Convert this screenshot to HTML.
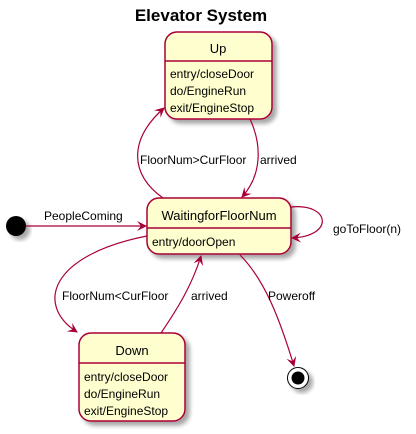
<!DOCTYPE html>
<html><head><style>
html,body{margin:0;padding:0;background:#fff;}
svg{display:block;}
text{font-family:"Liberation Sans",sans-serif;fill:#000;}
</style></head><body>
<svg width="416" height="434" viewBox="0 0 416 434" xmlns="http://www.w3.org/2000/svg">
<defs>
<filter id="sh" x="-20%" y="-20%" width="150%" height="150%">
<feGaussianBlur in="SourceAlpha" stdDeviation="2"/>
<feOffset dx="4" dy="4" result="b"/>
<feComponentTransfer><feFuncA type="linear" slope="0.35"/></feComponentTransfer>
<feMerge><feMergeNode/><feMergeNode in="SourceGraphic"/></feMerge>
</filter>
<marker id="ar" viewBox="0 0 10 10" refX="9" refY="5" markerWidth="10" markerHeight="10" markerUnits="userSpaceOnUse" orient="auto">
<path d="M0,0 L10,5 L0,10 L4,5 Z" fill="#A80036"/>
</marker>
</defs>
<text x="201" y="21" font-size="17" font-weight="bold" text-anchor="middle">Elevator System</text>

<!-- Up -->
<rect x="165" y="32" width="107" height="87" rx="12" fill="#FEFECE" stroke="#A80036" stroke-width="1.5" filter="url(#sh)"/>
<line x1="165" y1="61" x2="272" y2="61" stroke="#A80036" stroke-width="1.5"/>
<text x="218" y="53" font-size="13" text-anchor="middle">Up</text>
<text x="170" y="78" font-size="12">entry/closeDoor</text>
<text x="170" y="95" font-size="12">do/EngineRun</text>
<text x="170" y="112" font-size="12">exit/EngineStop</text>

<!-- Waiting -->
<rect x="147" y="198" width="144" height="56" rx="12" fill="#FEFECE" stroke="#A80036" stroke-width="1.5" filter="url(#sh)"/>
<line x1="147" y1="228" x2="291" y2="228" stroke="#A80036" stroke-width="1.5"/>
<text x="219" y="220" font-size="13" text-anchor="middle">WaitingforFloorNum</text>
<text x="152" y="246" font-size="12">entry/doorOpen</text>

<!-- Down -->
<rect x="79" y="333" width="106" height="88" rx="12" fill="#FEFECE" stroke="#A80036" stroke-width="1.5" filter="url(#sh)"/>
<line x1="79" y1="363" x2="185" y2="363" stroke="#A80036" stroke-width="1.5"/>
<text x="132" y="355" font-size="13" text-anchor="middle">Down</text>
<text x="84" y="381" font-size="12">entry/closeDoor</text>
<text x="84" y="398" font-size="12">do/EngineRun</text>
<text x="84" y="415" font-size="12">exit/EngineStop</text>

<!-- initial / final -->
<circle cx="16" cy="226" r="10" fill="#000" filter="url(#sh)"/>
<circle cx="298" cy="378" r="10.5" fill="#fff" stroke="#000" stroke-width="1" filter="url(#sh)"/>
<circle cx="298" cy="378" r="6.5" fill="#000"/>

<g fill="none" stroke="#A80036" stroke-width="1.2" marker-end="url(#ar)">
<path d="M26,226 L146,226"/>
<path d="M291,207 C330,203 335,236 292,238"/>
<path d="M163,198 C130,175 128,140 164,108"/>
<path d="M250,119 C262,145 262,175 242,197"/>
<path d="M147,236 C50,255 35,305 77,332"/>
<path d="M161,333 C178,308 192,285 201,256"/>
<path d="M240,255 C265,280 280,320 294,366"/>
</g>

<g font-size="12">
<text x="44" y="220">PeopleComing</text>
<text x="333" y="233">goToFloor(n)</text>
<text x="140" y="164">FloorNum&gt;CurFloor</text>
<text x="260" y="164">arrived</text>
<text x="62" y="300">FloorNum&lt;CurFloor</text>
<text x="191" y="300">arrived</text>
<text x="268" y="300">Poweroff</text>
</g>
</svg>
</body></html>
